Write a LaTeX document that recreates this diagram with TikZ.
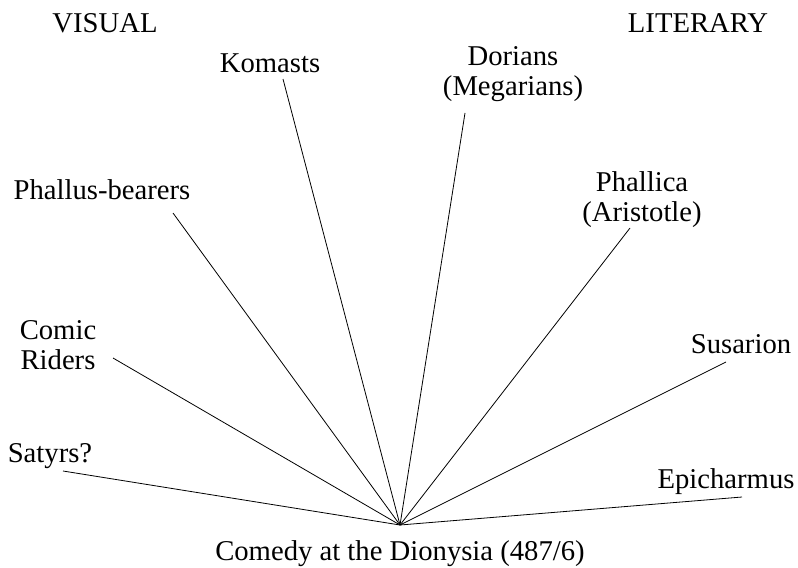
\documentclass[tikz,border=0pt]{standalone}
\usepackage{fontspec}
\setmainfont{Liberation Serif}
\usetikzlibrary{positioning}
\tikzset{
  lbl/.style  ={font=\fontsize{21.5}{22}\selectfont, inner sep=0pt,
                anchor=base, align=center},
  spoke/.style={draw, line width=0.6pt},
}

\begin{document}
\begin{tikzpicture}[x=0.75pt, y=-0.75pt]
  \useasboundingbox (0,0) rectangle (798,567);

  % column headings
  \node[lbl] (visual)   at (105,33) {VISUAL};
  \node[lbl] (literary) at (698,33) {LITERARY};

  % sources, left to right round the fan (base = last line)
  \node[lbl] (satyrs)   at (50,462)  {Satyrs?};
  \node[lbl] (riders)   at (58,369)  {Comic\\Riders};
  \node[lbl] (phallus)  at (102,199) {Phallus-bearers};
  \node[lbl] (komasts)  at (270,72)  {Komasts};
  \node[lbl] (dorians)  at (513,95)  {Dorians\\(Megarians)};
  \node[lbl] (phallica) at (642,221) {Phallica\\(Aristotle)};
  \node[lbl] (susarion) at (741,353) {Susarion};
  \node[lbl] (epich)    at (726,488) {Epicharmus};

  \node[lbl] (comedy)   at (400,560) {Comedy at the Dionysia (487/6)};

  % where the spokes start and meet
  \coordinate (apex)         at (400,525);
  \coordinate (satyrs-end)   at (63,471);
  \coordinate (riders-end)   at (113,358);
  \coordinate (phallus-end)  at (173,213);
  \coordinate (komasts-end)  at (283,79);
  \coordinate (dorians-end)  at (465,113);
  \coordinate (phallica-end) at (630,228);
  \coordinate (susarion-end) at (726,362);
  \coordinate (epich-end)    at (742,497);

  \foreach \src in {satyrs,riders,phallus,komasts,dorians,phallica,susarion,epich}
    \draw[spoke] (\src-end) -- (apex);
\end{tikzpicture}
\end{document}
